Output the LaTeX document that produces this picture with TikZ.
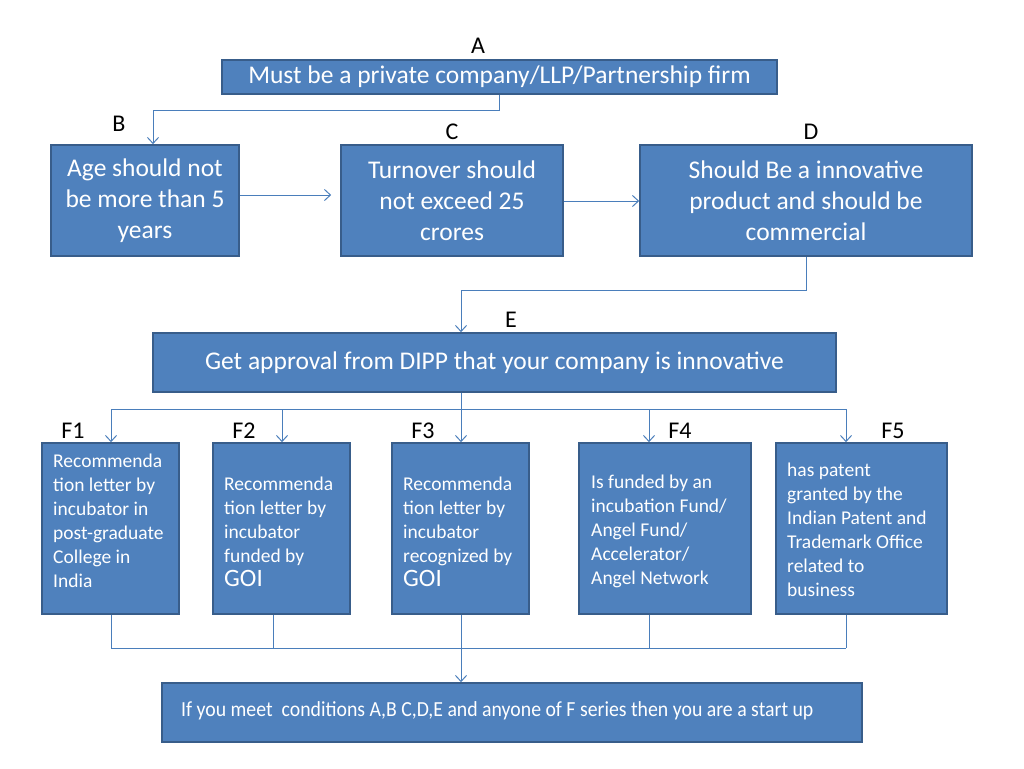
\documentclass[tikz,border=0pt]{standalone}
\usepackage{fontspec}
\usepackage{graphicx}
\setmainfont{Carlito}
\usetikzlibrary{arrows.meta}
\definecolor{boxfill}{HTML}{4F81BD}
\definecolor{boxedge}{HTML}{385D8A}
\definecolor{linecol}{HTML}{4A7EBB}
\tikzset{
  box/.style={fill=boxfill, draw=boxedge, line width=1.6pt, text=white, inner sep=0pt},
  bigtxt/.style={font=\fontsize{25.5}{31}\selectfont, align=center},
  smalltxt/.style={font=\fontsize{19.5}{24}\selectfont, align=left, text=white, inner sep=0pt, anchor=base west},
  lbl/.style={font=\fontsize{24}{26}\selectfont, text=black, inner sep=0pt},
  conn/.style={draw=linecol, line width=1pt},
  arr/.style={conn, -{Straight Barb[length=6pt,width=11pt]}},
}
\newcommand{\bigG}{{\fontsize{25}{24}\selectfont GOI}}
\begin{document}
\begin{tikzpicture}[x=1pt,y=-1pt]
\useasboundingbox (0,0) rectangle (1024,768);
% boxes
\node[box,bigtxt,minimum width=555pt,minimum height=34pt] (A) at (499.5,77) {Must be a private company/LLP/Partnership firm};
\node[box,bigtxt,minimum width=188pt,minimum height=111pt] (B) at (145,200.5) {Age should not\\be more than 5\\years};
\node[box,bigtxt,minimum width=222pt,minimum height=111pt] (C) at (452,200.5) {Turnover should\\not exceed 25\\crores};
\node[box,bigtxt,minimum width=332pt,minimum height=111pt] (D) at (806,200.5) {Should Be a innovative\\product and should be\\commercial};
\node[box,bigtxt,minimum width=683pt,minimum height=59pt] (E) at (494.5,362.5) {Get approval from DIPP that your company is innovative};
\node[box,minimum width=137pt,minimum height=171pt] (F1) at (110.5,528.5) {};
\node[box,minimum width=137pt,minimum height=171pt] (F2) at (281.5,528.5) {};
\node[box,minimum width=137pt,minimum height=171pt] (F3) at (460.5,528.5) {};
\node[box,minimum width=172pt,minimum height=171pt] (F4) at (665,528.5) {};
\node[box,minimum width=171pt,minimum height=171pt] (F5) at (861.5,528.5) {};
\node[box,minimum width=700pt,minimum height=59pt] (G) at (512,712.5) {};
% box texts (anchored at the baseline of their last line)
\node[smalltxt] (t1) at (53,587) {Recommenda\\tion letter by\\incubator in\\post-graduate\\College in\\India};
\node[smalltxt] (t2) at (224,586) {Recommenda\\tion letter by\\incubator\\funded by\\\bigG};
\node[smalltxt] (t3) at (403,586) {Recommenda\\tion letter by\\incubator\\recognized by\\\bigG};
\node[smalltxt] (t4) at (591,584) {Is funded by an\\incubation Fund/\\Angel Fund/\\Accelerator/\\Angel Network};
\node[smalltxt] (t5) at (787,596) {has patent\\granted by the\\Indian Patent and\\Trademark Office\\related to\\business};
\node[smalltxt,font=\fontsize{21.5}{22}\selectfont] (tG) at (181,716) {\scalebox{0.92}[1]{If you meet~ conditions A,B C,D,E and anyone of F series then you are a start up}};
% labels
\node[lbl] (lA) at (478,46) {A};
\node[lbl] (lB) at (119,124) {B};
\node[lbl] (lC) at (452,132) {C};
\node[lbl] (lD) at (811,132) {D};
\node[lbl] (lE) at (511,320) {E};
\node[lbl] (lF1) at (73,431) {F1};
\node[lbl] (lF2) at (244,431) {F2};
\node[lbl] (lF3) at (423,431) {F3};
\node[lbl] (lF4) at (680,431) {F4};
\node[lbl] (lF5) at (893,431) {F5};
% connectors
\draw[arr] (A.south -| 499,0) -- (499,110) -- (153,110) -- (B.north -| 153,0);
\draw[arr,shorten >=9pt] (B.east |- 0,195) -- (C.west |- 0,195);
\draw[arr] (C.east |- 0,201) -- (D.west |- 0,201);
\draw[arr] (D.south -| 806,0) -- (806,290) -- (461,290) -- (E.north -| 461,0);
\coordinate (top) at (461,409);
\draw[conn] (E.south -| 461,0) -- (top);
\draw[conn] (111,409) -- (846,409);
\draw[arr] (111,409) -- (F1.north -| 111,0);
\draw[arr] (282,409) -- (F2.north -| 282,0);
\draw[arr] (461,409) -- (F3.north -| 461,0);
\draw[arr] (649,409) -- (F4.north -| 649,0);
\draw[arr] (846,409) -- (F5.north -| 846,0);
\coordinate (bot) at (461,648);
\draw[conn] (F1.south -| 111,0) -- (111,648);
\draw[conn] (F2.south -| 273,0) -- (273,648);
\draw[conn] (F3.south -| 461,0) -- (461,648);
\draw[conn] (F4.south -| 649,0) -- (649,648);
\draw[conn] (F5.south -| 846,0) -- (846,648);
\draw[conn] (111,648) -- (846,648);
\draw[arr] (bot) -- (G.north -| 461,0);
\end{tikzpicture}
\end{document}
